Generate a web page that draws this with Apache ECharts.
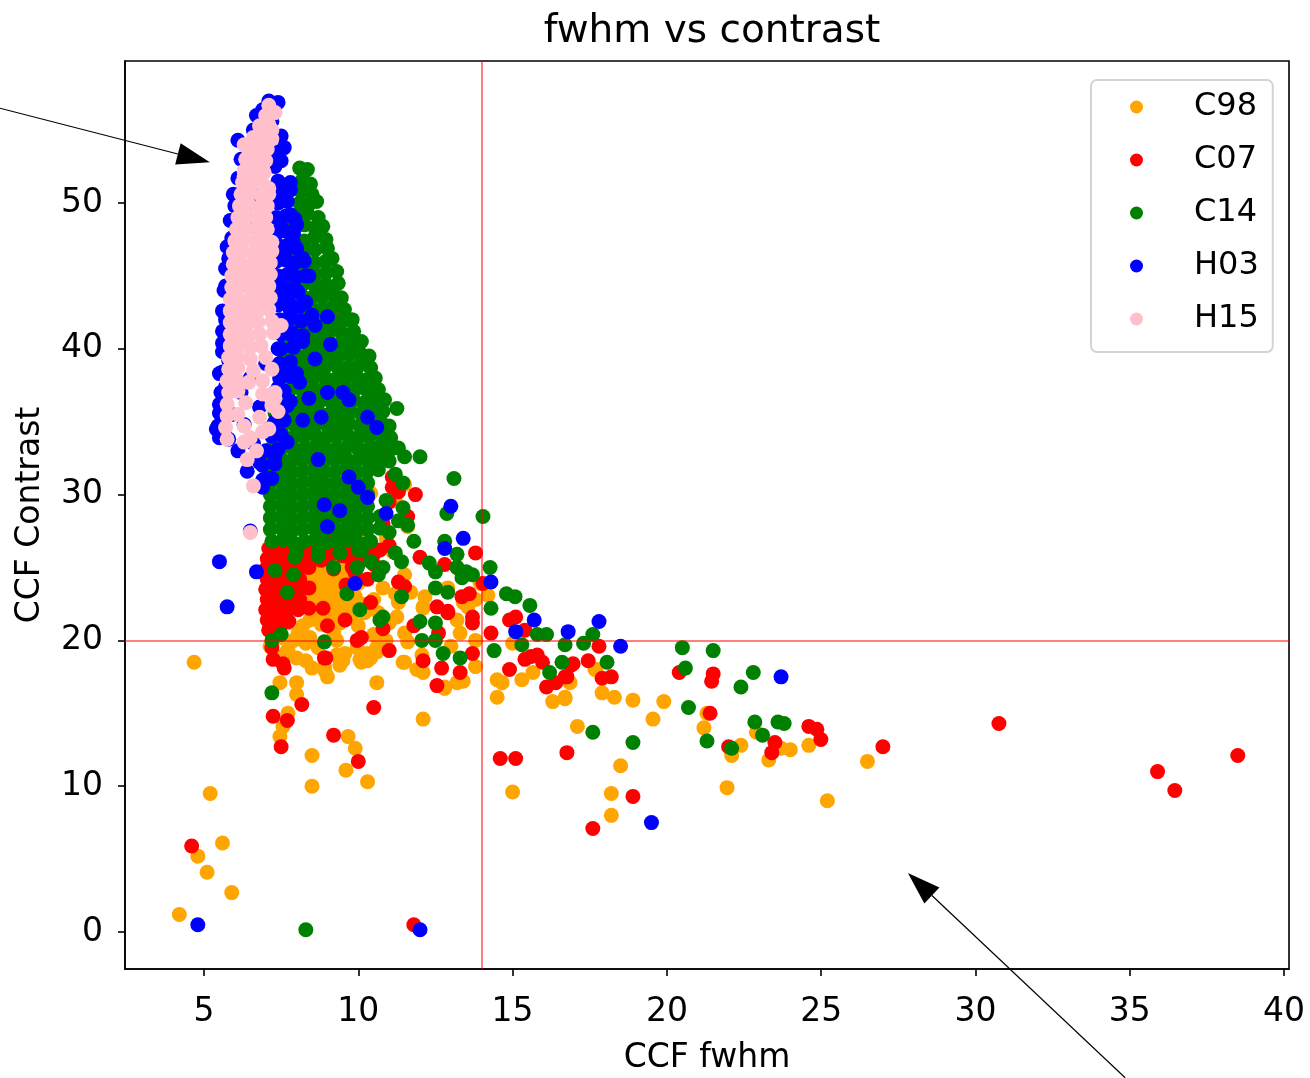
<!DOCTYPE html>
<html>
<head>
<meta charset="utf-8">
<title>fwhm vs contrast</title>
<script src="https://cdn.jsdelivr.net/npm/echarts@6/dist/echarts.min.js"></script>
<style>
html, body { margin: 0; padding: 0; background: #fff; }
#chart { width: 1310px; height: 1078px; }
</style>
</head>
<body>
<div id="chart"></div>
<script>
// values: [fwhm, contrast]
var seriesNames = ['C98', 'C07', 'C14', 'H03', 'H15']
var seriesColors = ['#ffa500', '#ff0000', '#008000', '#0000ff', '#ffc0cb']

// C98: scattered points
var c98Spread = [
  [8.3, 24.4], [8.76, 24.6], [9.2, 24.0], [8.9, 23.9], [8.5, 23.9], [8.6, 23.2], [8.17, 22.5], [9.73, 22.4],
  [9.57, 22.6], [9.4, 25.3], [9.0, 24.9], [9.6, 24.5], [8.4, 25.0], [9.3, 23.3], [9.9, 23.0], [8.9, 22.8],
  [10.2, 21.9], [10.65, 21.9], [11.2, 23.2], [11.3, 22.6], [10.8, 23.6], [8.43, 21.4], [7.7, 21.2], [7.07, 21.4],
  [7.14, 20.9], [7.14, 19.6], [7.7, 19.3], [8.05, 20.5], [8.5, 18.1], [9.3, 20.0], [9.57, 19.1], [10.05, 18.7],
  [10.3, 19.1], [10.6, 19.5], [10.9, 20.0], [11.5, 20.5], [11.6, 19.9], [11.45, 18.5], [12.06, 19.0], [12.1, 22.3],
  [12.16, 23.0], [11.5, 24.5], [11.7, 23.3], [12.9, 23.6], [13.4, 22.6], [13.8, 22.8], [11.5, 30.7], [11.6, 27.8],
  [11.1, 26.1], [11.25, 21.6], [9.96, 19.5], [9.4, 18.3], [8.9, 18.2], [8.43, 20.2], [9.4, 21.2], [7.2, 21.4],
  [7.1, 20.7], [8.3, 18.6], [10.3, 18.6], [12.1, 22.2], [4.68, 18.5], [7.46, 13.4], [7.56, 14.1],
  [7.72, 15.0], [8.0, 17.1], [8.0, 16.3], [7.46, 17.1], [7.72, 19.3], [9.0, 17.5], [8.92, 17.9], [9.3, 19.0],
  [9.5, 18.6], [10.1, 18.5], [10.4, 18.8], [10.6, 19.2], [10.6, 17.1], [11.5, 18.5], [11.9, 18.0], [12.1, 17.8],
  [12.8, 16.7], [12.1, 14.6], [9.67, 13.4], [9.9, 12.6], [8.5, 12.1], [8.5, 10.0], [9.6, 11.1], [10.3, 10.3],
  [5.2, 9.5], [4.8, 5.2], [5.6, 6.1], [5.1, 4.1], [5.9, 2.7], [4.2, 1.2], [13.95, 23.9], [14.2, 23.1],
  [13.2, 21.4], [13.55, 22.3], [13.3, 20.5], [13.8, 20.0], [13.0, 19.6], [15.0, 19.8], [13.8, 18.2], [12.8, 16.8],
  [13.2, 17.1], [13.4, 17.2], [14.5, 17.3], [14.66, 17.1], [14.5, 16.1], [15.3, 17.3], [15.66, 17.8], [16.3, 15.8],
  [16.7, 16.0], [17.67, 18.0], [17.9, 16.4], [18.3, 16.1], [18.9, 15.9], [19.9, 15.8], [17.1, 14.1], [19.55, 14.6],
  [18.5, 11.4], [18.2, 9.5], [18.2, 8.0], [15.0, 9.6], [21.3, 15.0], [21.2, 14.0], [22.9, 13.7], [22.4, 12.8],
  [22.1, 12.1], [23.3, 11.8], [23.7, 12.6], [24.0, 12.5], [24.6, 12.8], [21.95, 9.9], [26.5, 11.7], [25.2, 9.0],
  [16.86, 17.1], [16.7, 16.1], [17.7, 18.0], [10.4, 30.1], [11.2, 29.6], [10.9, 27.0], [10.2, 27.2], [8.1, 23.6],
  [8.7, 22.0], [9.1, 21.6], [10.0, 23.9], [10.5, 22.8]
]
// C98: the packed patch under the red band
var c98Core = [
  [8.4, 24.8], [8.75, 24.9], [9.1, 24.7], [9.45, 24.8],
  [8.3, 24.1], [8.65, 24.2], [9.0, 24.0], [9.35, 24.1], [9.7, 24.0],
  [8.35, 23.4], [8.7, 23.5], [9.05, 23.3], [9.4, 23.4], [9.75, 23.5],
  [8.3, 22.7], [8.65, 22.8], [9.0, 22.6], [9.35, 22.7], [10.1, 22.5],
  [8.6, 22.0], [9.0, 22.1], [9.4, 21.9], [9.8, 21.7],
  [7.5, 20.2], [7.9, 20.0], [8.3, 19.8], [7.6, 19.0], [8.0, 18.8], [8.7, 19.5], [8.2, 21.0], [8.8, 21.1],
  [9.2, 20.6], [10.0, 21.0], [10.5, 20.4], [11.0, 21.2]
]

// C07: scattered points
var c07Spread = [
  [9.24, 42.0], [9.0, 39.5], [10.2, 35.9], [10.8, 34.0], [10.9, 32.8], [10.6, 33.2], [10.6, 32.0], [11.1, 31.2],
  [11.1, 30.5], [11.3, 30.2], [11.85, 30.0], [11.0, 29.5], [11.6, 28.5], [10.8, 28.0],
  [7.24, 18.7], [7.56, 18.4], [7.6, 18.1], [7.2, 19.5], [7.24, 14.8], [7.7, 14.5], [7.5, 12.7],
  [8.17, 15.6], [8.8, 26.8], [9.3, 27.5], [9.7, 26.5], [10.1, 26.0], [8.95, 25.6], [9.5, 25.8], [10.5, 25.9],
  [11.0, 26.5], [9.9, 24.6], [10.3, 24.2], [11.3, 24.0], [11.5, 23.7], [12.0, 25.7], [12.55, 22.3], [12.9, 21.9],
  [12.6, 20.5], [13.7, 21.2], [13.8, 26.0], [14.3, 20.5], [8.86, 22.2], [9.57, 21.4], [10.8, 20.8], [10.1, 20.2],
  [9.96, 20.0], [8.9, 18.8], [11.0, 19.3], [8.95, 18.8], [12.1, 18.6], [12.7, 18.1], [12.55, 16.9], [10.5, 15.4],
  [9.2, 13.5], [10.0, 11.7], [4.6, 5.9], [11.8, 0.5], [12.8, 25.2], [13.2, 25.0], [14.04, 23.9], [13.36, 23.0],
  [13.6, 23.2], [12.9, 22.0], [13.7, 21.6], [14.9, 21.4], [15.1, 21.6], [15.4, 20.7], [13.7, 19.1], [13.3, 17.8],
  [14.9, 18.0], [15.4, 18.7], [15.6, 18.9], [15.8, 19.0], [15.97, 18.5], [16.1, 16.8], [16.4, 17.1], [16.76, 17.5],
  [16.96, 18.4], [17.45, 18.6], [17.8, 19.6], [16.9, 18.3], [16.7, 17.5], [17.9, 17.4], [18.2, 17.5], [20.4, 17.8],
  [21.5, 17.7], [21.45, 17.2], [21.4, 15.0], [22.0, 12.7], [23.5, 13.0], [23.4, 12.3], [24.6, 14.1], [24.86, 13.9],
  [24.99, 13.2], [27.0, 12.7], [30.76, 14.3], [35.9, 11.0], [36.46, 9.7], [38.5, 12.1], [14.6, 11.9], [15.1, 11.9],
  [16.76, 12.3], [18.9, 9.3], [17.6, 7.1], [9.0, 21.0], [10.4, 22.6], [11.8, 21.0], [9.6, 23.8]
]
// C07: the packed band at the foot of the green cloud
var c07Core = [
  [7.1, 26.3], [7.45, 26.4], [7.8, 26.2], [8.15, 26.3], [8.5, 26.4],
  [7.05, 25.6], [7.4, 25.7], [7.75, 25.5], [8.1, 25.6], [8.45, 25.7], [8.8, 25.5],
  [7.0, 24.9], [7.35, 25.0], [7.7, 24.8], [8.05, 24.9], [8.4, 25.0],
  [7.05, 24.2], [7.4, 24.3], [7.75, 24.1], [8.1, 24.2],
  [7.0, 23.5], [7.35, 23.6], [7.7, 23.4], [8.05, 23.5], [8.4, 23.6],
  [7.05, 22.8], [7.4, 22.9], [7.75, 22.7], [8.1, 22.8],
  [7.0, 22.1], [7.35, 22.2], [7.7, 22.0], [8.05, 22.1], [8.4, 22.2],
  [7.05, 21.4], [7.4, 21.5], [7.75, 21.3], [7.1, 20.7], [7.45, 20.8],
  [8.9, 26.3], [9.3, 26.0], [9.7, 25.7], [10.1, 25.5], [10.5, 25.2], [9.0, 27.0], [9.6, 27.1], [10.2, 26.6],
  [10.7, 26.2], [9.2, 24.9], [9.8, 25.0]
]

// C14: scattered points
var c14Spread = [
  [8.1, 52.4], [8.35, 52.3], [11.25, 35.9], [11.5, 32.6], [12.0, 32.6], [11.2, 31.4], [13.1, 31.1], [11.45, 30.8],
  [11.45, 29.1], [12.87, 28.7], [14.04, 28.5], [11.6, 27.9], [11.0, 27.4], [11.8, 26.8], [12.8, 26.8], [11.2, 26.0],
  [13.2, 25.9], [8.7, 25.8], [10.4, 25.4], [11.4, 25.4], [12.3, 25.3], [9.2, 25.0], [9.97, 25.0], [10.8, 25.0],
  [13.2, 25.0], [14.27, 25.0], [7.3, 24.8], [10.65, 24.5], [12.5, 24.7], [13.5, 24.7], [13.7, 24.5], [7.9, 24.5],
  [13.36, 24.3], [9.63, 23.2], [7.7, 23.3], [11.4, 23.0], [12.5, 23.6], [12.9, 23.3], [14.8, 23.2], [15.08, 23.0],
  [15.56, 22.4], [14.3, 22.2], [10.05, 22.1], [10.8, 21.6], [10.7, 21.4], [12.0, 21.3], [12.5, 21.2], [7.5, 20.4],
  [7.2, 20.0], [8.9, 19.9], [12.06, 20.0], [12.5, 20.0], [12.75, 19.1], [13.3, 18.8], [14.4, 19.3], [15.3, 19.7],
  [15.8, 20.4], [16.1, 20.4], [16.6, 18.5], [16.7, 19.7], [17.3, 19.8], [17.6, 20.4], [16.2, 17.8], [18.06, 18.5],
  [20.5, 19.5], [21.5, 19.3], [20.6, 18.1], [22.8, 17.8], [22.4, 16.8], [20.7, 15.4], [17.6, 13.7], [18.9, 13.0],
  [21.3, 13.1], [22.1, 12.6], [22.85, 14.4], [23.1, 13.5], [23.6, 14.4], [23.8, 14.3], [7.2, 16.4], [8.3, 0.15],
  [10.9, 29.6], [11.3, 28.2], [7.95, 25.7], [10.0, 26.2]
]
// C14: the packed cloud
var c14Core = [
  [8.2, 51.6], [8.45, 51.3], [8.15, 50.8], [8.5, 50.6], [8.1, 50.0], [8.4, 49.9], [8.65, 50.1],
  [8.0, 49.2], [8.35, 49.3], [8.7, 49.0], [7.9, 48.4], [8.25, 48.5], [8.6, 48.3], [8.85, 48.4],
  [7.9, 47.6], [8.25, 47.4], [8.6, 47.7], [8.95, 47.5], [7.9, 46.9], [8.25, 46.7], [8.6, 46.8], [9.0, 46.9],
  [7.9, 46.0], [8.25, 46.1], [8.6, 45.9], [8.95, 46.0], [9.15, 46.2],
  [7.9, 45.2], [8.25, 45.3], [8.6, 45.1], [8.95, 45.2], [9.3, 45.3],
  [7.9, 44.4], [8.25, 44.5], [8.6, 44.3], [8.95, 44.4], [9.35, 44.5],
  [7.8, 43.6], [8.15, 43.7], [8.5, 43.5], [8.85, 43.6], [9.2, 43.7], [9.45, 43.5],
  [7.8, 42.8], [8.15, 42.9], [8.5, 42.7], [8.85, 42.8], [9.2, 42.9], [9.55, 42.7],
  [7.7, 42.0], [8.1, 42.1], [8.45, 41.9], [8.8, 42.0], [9.15, 42.1], [9.5, 41.9], [9.8, 42.0],
  [7.7, 41.2], [8.05, 41.3], [8.4, 41.1], [8.75, 41.2], [9.1, 41.3], [9.45, 41.1], [9.85, 41.2],
  [7.65, 40.4], [8.0, 40.5], [8.35, 40.3], [8.7, 40.4], [9.05, 40.5], [9.4, 40.3], [9.75, 40.4], [10.1, 40.5],
  [7.6, 39.6], [7.95, 39.7], [8.3, 39.5], [8.65, 39.6], [9.0, 39.7], [9.35, 39.5], [9.7, 39.6], [10.05, 39.7], [10.35, 39.5],
  [7.6, 38.8], [7.95, 38.9], [8.3, 38.7], [8.65, 38.8], [9.0, 38.9], [9.35, 38.7], [9.7, 38.8], [10.05, 38.9], [10.4, 38.7],
  [7.5, 38.0], [7.85, 38.1], [8.2, 37.9], [8.55, 38.0], [8.9, 38.1], [9.25, 37.9], [9.6, 38.0], [9.95, 38.1], [10.3, 37.9], [10.55, 38.0],
  [7.5, 37.2], [7.85, 37.3], [8.2, 37.1], [8.55, 37.2], [8.9, 37.3], [9.25, 37.1], [9.6, 37.2], [9.95, 37.3], [10.3, 37.1], [10.65, 37.2],
  [7.4, 36.4], [7.75, 36.5], [8.1, 36.3], [8.45, 36.4], [8.8, 36.5], [9.15, 36.3], [9.5, 36.4], [9.85, 36.5], [10.2, 36.3], [10.55, 36.4], [10.85, 36.5],
  [7.3, 35.6], [7.65, 35.7], [8.0, 35.5], [8.35, 35.6], [8.7, 35.7], [9.05, 35.5], [9.4, 35.6], [9.75, 35.7], [10.1, 35.5], [10.45, 35.6], [10.8, 35.7],
  [7.25, 34.8], [7.6, 34.9], [7.95, 34.7], [8.3, 34.8], [8.65, 34.9], [9.0, 34.7], [9.35, 34.8], [9.7, 34.9], [10.05, 34.7], [10.4, 34.8], [10.75, 34.9], [11.0, 34.7],
  [7.2, 34.0], [7.55, 34.1], [7.9, 33.9], [8.25, 34.0], [8.6, 34.1], [8.95, 33.9], [9.3, 34.0], [9.65, 34.1], [10.0, 33.9], [10.35, 34.0], [10.7, 34.1], [11.05, 33.9],
  [7.2, 33.2], [7.55, 33.3], [7.9, 33.1], [8.25, 33.2], [8.6, 33.3], [8.95, 33.1], [9.3, 33.2], [9.65, 33.3], [10.0, 33.1], [10.35, 33.2], [10.7, 33.3], [11.05, 33.1], [11.3, 33.2],
  [7.15, 32.4], [7.5, 32.5], [7.85, 32.3], [8.2, 32.4], [8.55, 32.5], [8.9, 32.3], [9.25, 32.4], [9.6, 32.5], [9.95, 32.3], [10.3, 32.4], [10.65, 32.5], [11.0, 32.3],
  [7.15, 31.6], [7.5, 31.7], [7.85, 31.5], [8.2, 31.6], [8.55, 31.7], [8.9, 31.5], [9.25, 31.6], [9.6, 31.7], [9.95, 31.5], [10.3, 31.6], [10.65, 31.7],
  [7.15, 30.8], [7.5, 30.9], [7.85, 30.7], [8.2, 30.8], [8.55, 30.9], [8.9, 30.7], [9.25, 30.8], [9.6, 30.9], [9.95, 30.7], [10.3, 30.8],
  [7.15, 30.0], [7.5, 30.1], [7.85, 29.9], [8.2, 30.0], [8.55, 30.1], [8.9, 29.9], [9.25, 30.0], [9.6, 30.1], [9.95, 29.9], [10.3, 30.0],
  [7.15, 29.2], [7.5, 29.3], [7.85, 29.1], [8.2, 29.2], [8.55, 29.3], [8.9, 29.1], [9.25, 29.2], [9.6, 29.3], [9.95, 29.1], [10.3, 29.2],
  [7.15, 28.4], [7.5, 28.5], [7.85, 28.3], [8.2, 28.4], [8.55, 28.5], [8.9, 28.3], [9.25, 28.4], [9.6, 28.5], [9.95, 28.3], [10.3, 28.4], [10.7, 28.5],
  [7.15, 27.6], [7.5, 27.7], [7.85, 27.5], [8.2, 27.6], [8.55, 27.7], [8.9, 27.5], [9.25, 27.6], [9.6, 27.7], [9.95, 27.5], [10.3, 27.6], [10.7, 27.7],
  [7.2, 26.8], [7.55, 26.9], [7.9, 26.7], [8.25, 26.8], [8.6, 26.9], [8.95, 26.7], [9.3, 26.8], [9.65, 26.9], [10.0, 26.7], [10.4, 26.8],
  [8.0, 26.0], [8.7, 26.1], [9.4, 26.0], [10.1, 26.2]
]

// H03: scattered points
var h03Spread = [
  [7.4, 56.9], [6.9, 56.4], [6.7, 56.0], [7.2, 55.6], [6.6, 55.0], [6.1, 54.3], [6.9, 53.8], [7.3, 53.5],
  [6.2, 53.0], [6.5, 52.2], [6.1, 51.7], [7.4, 51.5], [7.8, 51.4], [7.6, 50.8], [6.8, 50.5], [7.3, 50.2],
  [6.0, 49.8], [7.0, 49.3], [7.8, 49.2], [6.3, 48.6], [7.5, 48.3], [8.0, 48.5], [5.9, 47.6], [7.3, 47.5],
  [7.9, 47.3], [6.9, 47.0], [5.8, 46.2], [7.6, 46.4], [8.2, 46.2], [7.2, 45.8], [6.0, 45.2], [7.8, 45.2],
  [8.4, 45.0], [7.4, 44.6], [5.7, 44.3], [8.0, 44.0], [6.5, 44.2], [7.6, 43.5], [5.9, 43.0], [8.3, 43.2],
  [7.2, 43.0], [7.8, 42.6], [5.7, 42.0], [8.5, 42.3], [9.0, 42.2], [7.4, 41.8], [8.6, 41.6], [6.0, 41.0],
  [7.8, 41.0], [5.6, 40.4], [8.2, 40.5], [9.1, 40.3], [7.4, 40.0], [5.8, 39.2], [8.6, 39.3], [7.0, 39.0],
  [7.7, 38.8], [5.5, 38.3], [8.0, 38.3], [6.5, 38.0], [8.1, 37.7], [5.7, 37.4], [7.4, 37.3], [9.0, 37.0],
  [9.5, 37.0], [6.2, 37.0], [9.7, 36.5], [5.5, 36.2], [7.8, 36.4], [8.4, 36.6], [6.8, 36.0], [5.9, 35.5],
  [7.5, 35.4], [8.8, 35.3], [8.2, 35.1], [10.3, 35.3], [6.3, 34.8], [5.4, 34.5], [7.1, 34.5], [10.6, 34.6],
  [5.8, 33.8], [7.7, 33.6], [6.6, 33.5], [5.5, 33.9], [6.1, 33.0], [7.3, 32.6], [8.7, 32.4], [6.8, 32.2],
  [7.1, 31.1], [6.4, 31.6], [9.7, 31.2], [6.9, 30.5], [10.0, 30.5], [10.3, 29.8], [8.9, 29.3], [9.4, 28.9],
  [10.9, 28.7], [9.0, 27.8], [13.0, 29.2], [13.4, 27.0], [12.8, 26.3], [6.5, 27.5], [5.5, 25.4], [5.75, 22.3],
  [6.7, 24.7], [9.9, 23.9], [14.3, 24.0], [15.1, 20.6], [15.7, 21.4], [16.8, 20.6], [17.8, 21.3], [18.5, 19.6],
  [23.7, 17.5], [19.5, 7.5], [4.8, 0.5], [12.0, 0.15]
]
// H03: the rim round the pink column and its right flank
var h03Core = [
  [5.95, 50.6], [5.85, 48.8], [5.75, 47.0], [5.7, 45.5], [5.65, 44.0], [5.6, 42.6], [5.6, 41.2], [5.6, 39.8],
  [5.6, 38.4], [5.55, 37.0], [5.5, 35.6], [5.45, 34.7],
  [7.3, 52.5], [7.5, 52.9], [7.6, 53.8], [7.5, 54.6], [7.1, 57.0],
  [7.5, 51.0], [7.8, 50.9], [7.4, 50.0], [7.7, 50.1], [7.35, 49.0], [7.65, 49.1], [7.95, 48.9],
  [7.3, 48.0], [7.6, 48.1], [7.9, 47.9], [7.4, 47.0], [7.7, 47.1], [8.0, 46.9],
  [7.35, 46.0], [7.65, 46.1], [7.95, 45.9], [8.25, 46.0], [7.4, 45.0], [7.7, 45.1], [8.0, 44.9], [8.3, 45.0],
  [7.35, 44.0], [7.7, 44.1], [8.05, 43.9], [7.4, 43.0], [7.75, 43.1], [8.1, 42.9],
  [7.45, 42.0], [7.8, 42.1], [8.15, 41.9], [7.5, 41.0], [7.85, 41.1], [8.2, 40.9],
  [7.5, 40.0], [7.9, 40.1], [7.45, 39.0], [7.8, 39.1], [7.45, 38.0], [7.8, 38.1],
  [7.3, 37.0], [7.6, 37.1], [7.4, 36.0], [7.7, 36.1], [7.3, 35.0], [7.6, 35.1],
  [7.2, 34.0], [7.5, 34.1], [7.0, 33.0], [7.4, 33.1], [6.9, 32.0], [7.3, 32.1], [6.9, 31.0], [7.2, 31.1]
]

// H15: scattered points
var h15Spread = [
  [7.1, 56.7], [7.3, 56.2], [6.9, 55.2], [7.2, 55.0], [6.8, 54.0], [7.0, 53.6], [6.3, 54.0], [6.6, 52.8],
  [6.9, 52.5], [6.3, 51.8], [6.7, 51.5], [7.1, 51.0], [7.2, 47.3], [7.5, 41.6], [7.3, 37.0], [7.3, 36.6],
  [7.4, 35.7], [6.9, 34.3], [6.3, 33.6], [6.7, 33.0], [6.4, 32.4], [6.6, 30.6], [6.5, 27.4]
]
// H15: the packed column
var h15Core = [
  [7.0, 56.0], [7.15, 56.1], [6.8, 55.3], [7.1, 55.4], [6.6, 54.5], [6.9, 54.6], [7.2, 54.4],
  [6.4, 53.8], [6.75, 53.9], [7.05, 53.7], [6.35, 53.0], [6.7, 53.1], [7.0, 52.9],
  [6.3, 52.2], [6.6, 52.3], [6.95, 52.1], [6.25, 51.4], [6.55, 51.5], [6.9, 51.3],
  [6.2, 50.6], [6.5, 50.7], [6.85, 50.5], [7.1, 50.6], [6.15, 49.8], [6.45, 49.9], [6.8, 49.7], [7.05, 49.8],
  [6.1, 49.0], [6.4, 49.1], [6.75, 48.9], [7.0, 49.0], [6.05, 48.2], [6.35, 48.3], [6.7, 48.1], [7.05, 48.2],
  [6.0, 47.4], [6.3, 47.5], [6.65, 47.3], [7.0, 47.4], [5.95, 46.6], [6.25, 46.7], [6.6, 46.5], [6.95, 46.6], [7.2, 46.7],
  [5.95, 45.8], [6.2, 45.9], [6.55, 45.7], [6.9, 45.8], [7.15, 45.9], [5.9, 45.0], [6.2, 45.1], [6.5, 44.9], [6.85, 45.0], [7.15, 45.1],
  [5.9, 44.2], [6.15, 44.3], [6.5, 44.1], [6.8, 44.2], [7.1, 44.3], [5.85, 43.4], [6.1, 43.5], [6.45, 43.3], [6.8, 43.4], [7.15, 43.5],
  [5.85, 42.6], [6.1, 42.7], [6.45, 42.5], [6.75, 42.6], [7.1, 42.7], [5.85, 41.8], [6.1, 41.9], [6.4, 41.7], [6.75, 41.8], [7.2, 41.9],
  [5.85, 41.0], [6.1, 41.1], [6.45, 40.9], [6.8, 41.0], [7.25, 41.1], [5.85, 40.2], [6.15, 40.3], [6.5, 40.1], [6.85, 40.2],
  [5.8, 39.4], [6.1, 39.5], [6.5, 39.3], [7.0, 39.4], [5.8, 38.6], [6.1, 38.7], [6.6, 38.5], [7.2, 38.6],
  [5.75, 37.8], [6.05, 37.9], [6.45, 37.7], [6.9, 37.8], [5.8, 37.0], [6.1, 37.1], [6.9, 36.9],
  [5.75, 36.2], [6.35, 36.3], [7.2, 36.1], [5.75, 35.4], [6.1, 35.5], [6.8, 35.3], [5.7, 34.6], [6.3, 34.7], [7.1, 34.5],
  [5.75, 33.8], [6.5, 33.9]
]

var xTicks = [5, 10, 15, 20, 25, 30, 35, 40]
var yTicks = [0, 10, 20, 30, 40, 50]
var fwhmCut = 14
var contrastCut = 20

// the two arrows drawn over the figure, in data coordinates
var arrows = [
  { from: [-1.61, 56.5], to: [5.19, 52.8] },
  { from: [34.85, -10.0], to: [27.81, 4.05] }
]

var font = 'DejaVu Sans'
var chart = echarts.init(document.getElementById('chart'))

var allData = [
  c98Spread.concat(c98Core),
  c07Spread.concat(c07Core),
  c14Spread.concat(c14Core),
  h03Spread.concat(h03Core),
  h15Spread.concat(h15Core)
]
var series = allData.map(function (d, i) {
  return {
    name: seriesNames[i],
    type: 'scatter',
    data: d,
    symbol: 'circle',
    symbolSize: 15,
    itemStyle: { color: seriesColors[i], opacity: 1 },
    z: 2 + i
  }
})
// red guide lines, drawn over the points
series.push({
  type: 'scatter',
  data: [],
  z: 20,
  silent: true,
  markLine: {
    silent: true,
    symbol: 'none',
    animation: false,
    label: { show: false },
    lineStyle: { color: 'rgba(255,0,0,0.5)', width: 2, type: 'solid' },
    data: [{ xAxis: fwhmCut }, { yAxis: contrastCut }]
  }
})

var option = {
  animation: false,
  title: {
    text: 'fwhm vs contrast',
    left: 707,
    textAlign: 'center',
    top: 7,
    textStyle: { fontFamily: font, fontSize: 39, fontWeight: 'normal', color: '#000' }
  },
  legend: {
    data: seriesNames,
    orient: 'vertical',
    left: 1091,
    top: 80,
    icon: 'circle',
    itemWidth: 13,
    itemHeight: 13,
    itemGap: 21,
    padding: [11, 14, 17, 39],
    backgroundColor: 'rgba(255,255,255,0.8)',
    borderColor: '#d4d4d4',
    borderWidth: 2,
    borderRadius: 6,
    textStyle: { fontFamily: font, fontSize: 32, color: '#000', lineHeight: 31, padding: [0, 0, 0, 46] }
  },
  grid: {
    left: 125,
    right: 21,
    top: 61,
    bottom: 109,
    outerBoundsMode: 'none',
    containLabel: false,
    show: true,
    borderColor: '#000',
    borderWidth: 1.6,
    backgroundColor: 'transparent'
  },
  xAxis: {
    type: 'value',
    min: 2.44,
    max: 40.16,
    name: 'CCF fwhm',
    nameLocation: 'middle',
    nameGap: 73,
    nameTextStyle: { fontFamily: font, fontSize: 33, color: '#000' },
    axisLine: { show: true, onZero: false, lineStyle: { color: '#000', width: 1.6 } },
    axisTick: { show: true, customValues: xTicks, length: 7, lineStyle: { color: '#000', width: 1.6 } },
    axisLabel: { customValues: xTicks, fontFamily: font, fontSize: 33, color: '#000', margin: 27 },
    splitLine: { show: false }
  },
  yAxis: {
    type: 'value',
    min: -2.54,
    max: 59.74,
    name: 'CCF Contrast',
    nameLocation: 'middle',
    nameGap: 78,
    nameTextStyle: { fontFamily: font, fontSize: 33, color: '#000' },
    axisLine: { show: true, onZero: false, lineStyle: { color: '#000', width: 1.6 } },
    axisTick: { show: true, customValues: yTicks, length: 7, lineStyle: { color: '#000', width: 1.6 } },
    axisLabel: { customValues: yTicks, fontFamily: font, fontSize: 33, color: '#000', margin: 22 },
    splitLine: { show: false }
  },
  series: series
}
chart.setOption(option)

// arrows: thin line plus a filled head, placed through the axes
function arrowGraphic (a) {
  var p0 = chart.convertToPixel({ gridIndex: 0 }, a.from)
  var p1 = chart.convertToPixel({ gridIndex: 0 }, a.to)
  var dx = p1[0] - p0[0]
  var dy = p1[1] - p0[1]
  var len = Math.sqrt(dx * dx + dy * dy)
  var ux = dx / len
  var uy = dy / len
  var headLen = 33
  var headHalf = 11
  var bx = p1[0] - ux * headLen
  var by = p1[1] - uy * headLen
  return [
    {
      type: 'line',
      shape: { x1: p0[0], y1: p0[1], x2: bx, y2: by },
      style: { stroke: '#000', lineWidth: 1.2 },
      z: 100
    },
    {
      type: 'polygon',
      shape: {
        points: [
          [p1[0], p1[1]],
          [bx - uy * headHalf, by + ux * headHalf],
          [bx + uy * headHalf, by - ux * headHalf]
        ]
      },
      style: { fill: '#000' },
      z: 100
    }
  ]
}
var elements = []
arrows.forEach(function (a) {
  elements = elements.concat(arrowGraphic(a))
})
chart.setOption({ graphic: elements })
</script>
</body>
</html>
